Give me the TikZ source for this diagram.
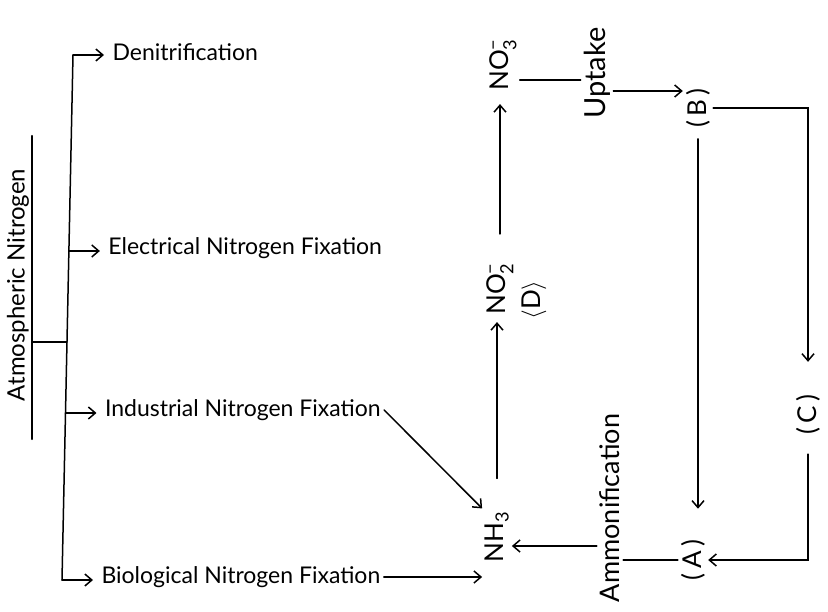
\documentclass[tikz,border=0pt]{standalone}
\usepackage{amsmath}
\usepackage{fontspec}
\setmainfont{Lato}
\usetikzlibrary{arrows.meta, positioning, calc}

\tikzset{
  branchtext/.style={font=\fontsize{23}{27}\selectfont},
  vtext/.style={rotate=90, inner sep=3pt, font=\fontsize{26}{30}\selectfont},
  flow/.style={line width=1.5pt, -{Straight Barb[length=7pt, width=12pt]}},
  plain/.style={line width=1.5pt},
}

\begin{document}
\begin{tikzpicture}[x=1pt, y=-1pt, line cap=round]
  \useasboundingbox (0,0) rectangle (828,612);

  % Source and its bracket
  \node[vtext, font=\fontsize{24}{28}\selectfont] (atm) at (18,285) {Atmospheric Nitrogen};
  \draw[plain, shorten <=-35pt, shorten >=-30pt] (atm.south west) -- (atm.south east);
  \coordinate (brtop) at (73,55);
  \coordinate (brbot) at (62,580);
  \draw[plain] (brtop) -- (brbot);
  \coordinate (br-atm) at ($(brtop)!{(342-55)/525}!(brbot)$);
  \draw[plain] (atm.south |- br-atm) -- (br-atm);

  % Branches
  \foreach \name/\y/\txt in {den/55/Denitrification, elec/251/Electrical Nitrogen Fixation,
      ind/413/Industrial Nitrogen Fixation, bio/580/Biological Nitrogen Fixation} {
    \coordinate (br-\name) at ($(brtop)!{(\y-55)/525}!(brbot)$);
    \node[branchtext, right=36pt of br-\name, yshift=3pt] (\name) {\txt};
    \draw[flow, shorten >=5pt] (br-\name) -- (br-\name -| \name.west);
  }

  % Nitrogen cycle
  \node[vtext] (nh3) at (497,537) {NH$_{\text{3}}$};
  \node[vtext] (no2) at (500,289) {NO$_{\text{2}}^{\text{−}}$};
  \node[vtext] (dd) at (534,300) {$\langle$D$\rangle$};
  \node[vtext] (no3) at (503,65) {NO$_{\text{3}}^{\text{−}}$};
  \node[vtext, font=\fontsize{29}{33}\selectfont] (uptake) at (597,73) {Uptake};
  \node[vtext] (bb) at (698,108) {(\,B\,)};
  \node[vtext] (cc) at (808,415) {(\,C\,)};
  \node[vtext] (aa) at (693,560) {(\,A\,)};
  \node[vtext, font=\fontsize{27}{31}\selectfont] (ammon) at (610,508) {Ammonification};

  % Connectors
  \draw[flow] (ind.east) -- (nh3.north east);
  \draw[flow] (bio.east) -- (bio.east -| nh3.north);
  \draw[flow, shorten <=30pt, shorten >=4pt] (nh3.east) -- (nh3.east |- no2.west);
  \draw[flow, shorten <=26pt, shorten >=10pt] (no2.east) -- (no2.east |- no3.west);
  \draw[plain] ([yshift=-15pt]no3.south) -- ([yshift=-15pt]no3.south -| uptake.north);
  \draw[flow] ([yshift=-18pt]uptake.south) -- ([yshift=-18pt]uptake.south -| bb.north);
  \draw[flow, shorten >=30pt] (bb.south) -| (cc.east);
  \draw[flow, shorten <=8pt, shorten >=28pt] (bb.west) -- (bb.west |- aa.east);
  \draw[flow, shorten <=16pt] (cc.west) |- (aa.south);
  \draw[plain] (aa.north) -- (aa.north -| ammon.south);
  \draw[flow] ([yshift=-9pt]nh3.south -| ammon.north) -- ([yshift=-9pt]nh3.south);
\end{tikzpicture}
\end{document}
